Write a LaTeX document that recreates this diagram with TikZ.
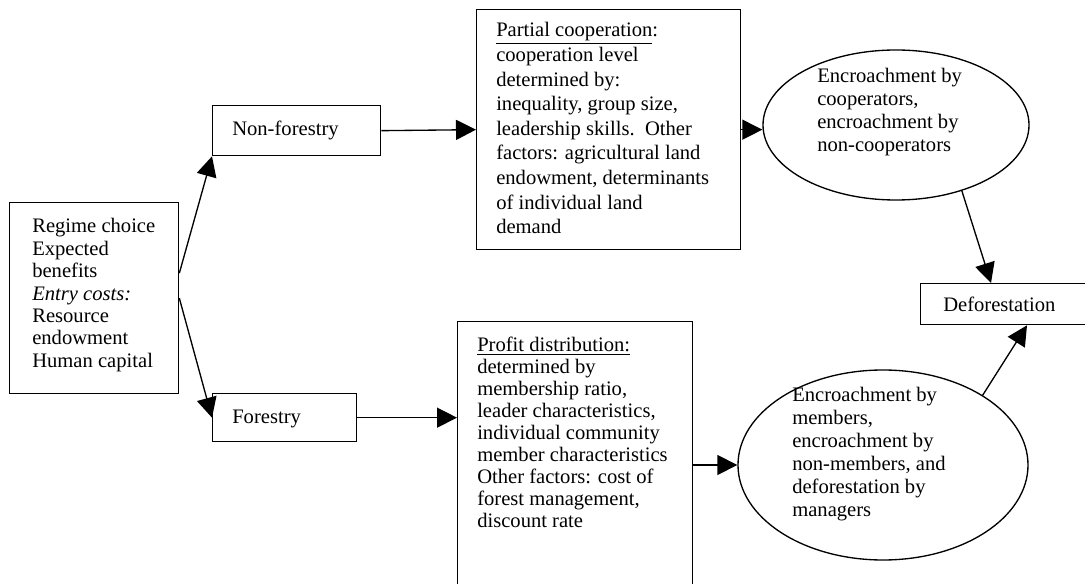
\documentclass[tikz,border=0pt]{standalone}
\usepackage{fontspec}
\setmainfont{Liberation Serif}
\usetikzlibrary{arrows.meta,shapes.geometric,calc}
\newcommand{\txtlines}[2]{{\fontsize{15.45pt}{#1}\selectfont\begin{tabular}[t]{@{}l@{}}#2\end{tabular}}}
\begin{document}
\begin{tikzpicture}[x=0.75pt,y=-0.75pt,
  box/.style={draw,line width=1pt,rectangle,inner sep=0pt,anchor=north west},
  ell/.style={draw,line width=1pt,ellipse,inner sep=0pt},
  txt/.style={anchor=base west,inner sep=0pt},
  arr/.style={line width=1pt,-{Triangle[length=15pt,width=15pt]}}]
\useasboundingbox (0,0) rectangle (1085,584);
\clip (0,0) rectangle (1085,584);
% boxes
\node[box,minimum width=126.75pt,minimum height=143.25pt] (main) at (9,202) {};
\node[box,minimum width=126pt,minimum height=37.5pt] (nonf) at (212,105) {};
\node[box,minimum width=108pt,minimum height=36pt] (forest) at (212,393) {};
\node[box,minimum width=198pt,minimum height=180pt] (partial) at (476,9) {};
\node[box,minimum width=176.25pt,minimum height=202.5pt] (profit) at (457,321) {};
\node[box,minimum width=126pt,minimum height=30.75pt] (defor) at (920,283) {};
\node[ell,minimum width=199.5pt,minimum height=112.5pt] (topell) at (896,125) {};
\node[ell,minimum width=217.5pt,minimum height=142.5pt] (botell) at (883,465) {};
% texts
\node[txt] (tmain) at (32,233) {\txtlines{16.8pt}{Regime choice\\Expected\\benefits\\\textit{Entry costs:}\\Resource\\endowment\\Human capital}};
\node[txt] (tnonf) at (232,136) {\txtlines{16pt}{Non-forestry}};
\node[txt] (tforest) at (232,423) {\txtlines{16pt}{Forestry}};
\node[txt] (tpartial) at (496,37) {\txtlines{18.45pt}{\underline{Partial cooperation}:\\cooperation level\\determined by:\\inequality, group size,\\leadership skills.\ \ Other\\factors: agricultural land\\endowment, determinants\\of individual land\\demand}};
\node[txt] (tprofit) at (477,352) {\txtlines{16.5pt}{\underline{Profit distribution:}\\determined by\\membership ratio,\\leader characteristics,\\individual community\\member characteristics\\Other factors: cost of\\forest management,\\discount rate}};
\node[txt] (ttop) at (817,83) {\txtlines{17.25pt}{Encroachment by\\cooperators,\\encroachment by\\non-cooperators}};
\node[txt] (tbot) at (792,402) {\txtlines{17.25pt}{Encroachment by\\members,\\encroachment by\\non-members, and\\deforestation by\\managers}};
\node[txt] (tdefor) at (943,312) {\txtlines{16pt}{Deforestation}};
% connectors
\draw[arr] ([yshift=18.75pt]main.east) -- (nonf.south west);
\draw[arr] (main.east) -- (forest.west);
\draw[arr] (nonf.east) -- (partial.west);
\draw[arr] (partial.east) -- (partial.east -| topell.west);
\draw[arr] (forest.east) -- (forest.east -| profit.west);
\draw[arr] (botell.west -| profit.east) -- (botell.west);
\draw[arr] (topell.-45) -- ([xshift=53.25pt]defor.north west);
\draw[arr] (botell.35) -- ([xshift=80.25pt]defor.south west);
\end{tikzpicture}
\end{document}
